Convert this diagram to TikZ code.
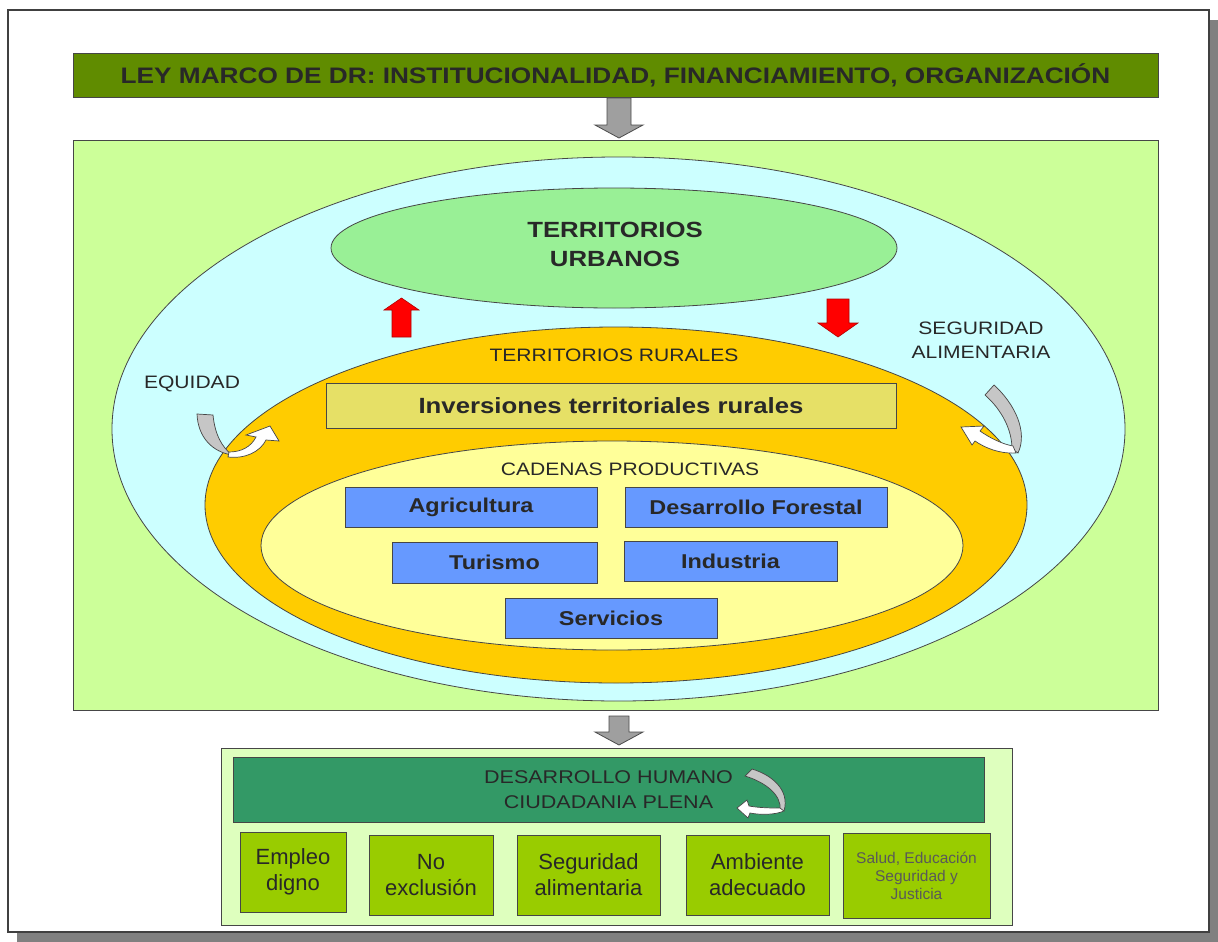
\documentclass[tikz,border=0pt]{standalone}
\usepackage{fontspec}
\setmainfont[FakeStretch=1.17]{Liberation Sans}
\newfontfamily\narrowfont[FakeStretch=1.0]{Liberation Sans}
\usetikzlibrary{shapes.geometric}

\definecolor{titlegreen}{RGB}{96,140,0}
\definecolor{mainbg}{RGB}{204,255,153}
\definecolor{cyanfill}{RGB}{204,255,255}
\definecolor{urbanfill}{RGB}{153,240,150}
\definecolor{orangefill}{RGB}{255,204,0}
\definecolor{yellowfill}{RGB}{255,255,153}
\definecolor{invfill}{RGB}{230,224,102}
\definecolor{bluefill}{RGB}{102,153,255}
\definecolor{darkgreen}{RGB}{51,153,102}
\definecolor{boxgreen}{RGB}{153,204,0}
\definecolor{bottombg}{RGB}{222,255,190}
\definecolor{textgray}{RGB}{40,40,40}
\definecolor{edgegray}{RGB}{70,70,70}

\tikzstyle{panel} = [rectangle, draw=edgegray, line width=0.9pt, inner sep=0pt]
\tikzstyle{ring} = [ellipse, draw=edgegray, line width=0.8pt, inner sep=0pt]
\tikzstyle{bluebox} = [panel, fill=bluefill, minimum height=40pt, text=textgray, font=\bfseries\fontsize{20}{24}\selectfont]
\tikzstyle{goalbox} = [panel, fill=boxgreen, minimum height=80pt, text=textgray, align=center, font=\narrowfont\fontsize{22}{26}\selectfont]
\tikzstyle{label} = [text=textgray, align=center, font=\fontsize{18}{24}\selectfont]
\tikzstyle{blockarrow} = [fill=gray!75, draw=gray!60!black, line width=0.8pt]
\tikzstyle{redarrow} = [fill=red, draw=red!70!black, line width=0.6pt]
\tikzstyle{twistband} = [fill=gray!45, draw=edgegray, line width=0.7pt]
\tikzstyle{twisthead} = [fill=white, draw=edgegray, line width=0.7pt]

\begin{document}
\begin{tikzpicture}[x=1pt,y=-1pt]
\useasboundingbox (0,0) rectangle (1218,942);

% page with shadow
\fill[gray] (17,20) rectangle (1218,942);
\draw[fill=white, draw=black!75, line width=1.2pt] (8,10) rectangle (1209,932);

% title bar
\node[panel, fill=titlegreen, minimum width=1085pt, minimum height=44pt, text=textgray, font=\bfseries\fontsize{22.4}{24}\selectfont] (ley) at (615.5,75) {LEY MARCO DE DR: INSTITUCIONALIDAD, FINANCIAMIENTO, ORGANIZACIÓN};

% top gray arrow
\draw[blockarrow] (607,98) -- (631,98) -- (631,125) -- (643,125) -- (619,138) -- (595,125) -- (607,125) -- cycle;

% middle block
\node[panel, fill=mainbg, minimum width=1085pt, minimum height=570pt] (marco) at (615.5,425) {};
\node[ring, fill=cyanfill, minimum width=1013pt, minimum height=544pt] (nacional) at (618.5,429) {};
\node[ring, fill=urbanfill, minimum width=566pt, minimum height=120pt] (urbanos) at (614,248) {};
\node[text=textgray, align=center, font=\bfseries\fontsize{22}{29}\selectfont] (urbtxt) at (615,244) {TERRITORIOS\\URBANOS};
\node[ring, fill=orangefill, minimum width=822pt, minimum height=356pt] (rurales) at (616,505) {};
\node[ring, fill=yellowfill, minimum width=702pt, minimum height=209pt] (cadenas) at (612,545.5) {};

\node[label] (ruraltxt) at (614,355) {TERRITORIOS RURALES};
\node[label] (cadtxt) at (630,469) {CADENAS PRODUCTIVAS};
\node[label] (equidad) at (192,384) {EQUIDAD};
\node[label] (segali) at (981,340) {SEGURIDAD\\ALIMENTARIA};

\node[panel, fill=invfill, minimum width=570pt, minimum height=45pt, text=textgray, font=\bfseries\fontsize{22}{26}\selectfont] (inversiones) at (611,405.5) {Inversiones territoriales rurales};

\node[bluebox, minimum width=252pt] (agri) at (471,507) {Agricultura};
\node[bluebox, minimum width=262pt] (forestal) at (756,507) {Desarrollo Forestal};
\node[bluebox, minimum width=205pt, minimum height=41pt] (turismo) at (494.5,562.5) {Turismo};
\node[bluebox, minimum width=213pt] (industria) at (730.5,561) {Industria};
\node[bluebox, minimum width=212pt] (servicios) at (611,618) {Servicios};

% red arrows between urban and rural
\draw[redarrow] (392,337) -- (411,337) -- (411,310) -- (419,310) -- (401.5,298) -- (384,310) -- (392,310) -- cycle;
\draw[redarrow] (827,299) -- (849,299) -- (849,323) -- (858,323) -- (838,337) -- (818,323) -- (827,323) -- cycle;

% twisted arrows
\draw[twistband] (197,414) -- (213,415) .. controls (215,435) and (222,447) .. (232,455) .. controls (213,452) and (198,438) .. (197,414) -- cycle;
\draw[twisthead] (228,457) .. controls (245,459) and (260,452) .. (266,440) -- (279,441) -- (270,426) -- (246,435) -- (256,437) .. controls (251,447) and (241,452) .. (229,452) -- cycle;

\draw[twistband] (985,395) -- (994,385) .. controls (1015,404) and (1028,432) .. (1018,453) -- (1012,449) .. controls (1012,430) and (1002,410) .. (985,395) -- cycle;
\draw[twisthead] (1016,453) .. controls (1000,454) and (985,448) .. (975,441) -- (972,445) -- (961,427) -- (984,426) -- (980,431) .. controls (990,438) and (1002,444) .. (1013,446) -- cycle;

% bottom gray arrow
\draw[blockarrow] (609,716) -- (629,716) -- (629,732) -- (643,732) -- (619,745) -- (595,732) -- (609,732) -- cycle;

% bottom block
\node[panel, fill=bottombg, minimum width=791pt, minimum height=177pt] (humano) at (616.5,836.5) {};
\node[panel, fill=darkgreen, minimum width=751pt, minimum height=65pt, text=textgray, align=center, font=\fontsize{18.4}{25}\selectfont] (ciudadania) at (608.5,789.5) {DESARROLLO HUMANO\\CIUDADANIA PLENA};

\draw[twistband] (745,776) -- (752,769) .. controls (772,775) and (790,790) .. (784,811) -- (780,810) .. controls (782,795) and (765,782) .. (745,776) -- cycle;
\draw[twisthead] (784,811) .. controls (775,815) and (760,815) .. (750,813) -- (748,818) -- (737,808) -- (747,800) -- (749,806) .. controls (760,808) and (772,808) .. (780,808) -- cycle;

\node[goalbox, minimum width=106pt] (empleo) at (293,872) {Empleo\\digno};
\node[goalbox, minimum width=124pt] (exclusion) at (431,875) {No\\exclusión};
\node[goalbox, minimum width=143pt] (segalim) at (588.5,875) {Seguridad\\alimentaria};
\node[goalbox, minimum width=143pt] (ambiente) at (757.5,875) {Ambiente\\adecuado};
\node[goalbox, minimum width=147pt, minimum height=85pt, text=black!65, font=\narrowfont\fontsize{15.5}{18}\selectfont] (salud) at (916.5,875.5) {Salud, Educación\\Seguridad y\\Justicia};

\end{tikzpicture}
\end{document}
